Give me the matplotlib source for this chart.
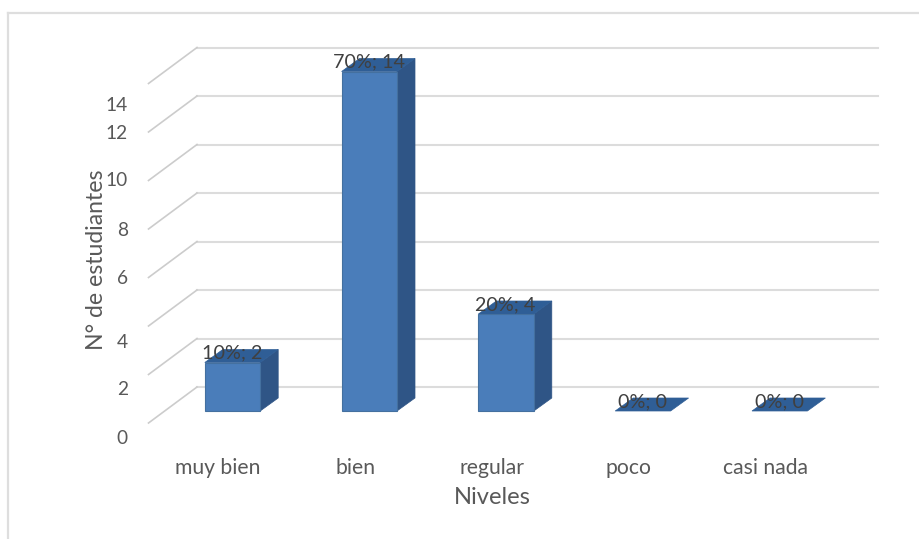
import matplotlib
matplotlib.use("Agg")
import matplotlib.pyplot as plt
from matplotlib.lines import Line2D
from matplotlib.patches import Polygon

categories = ["muy bien", "bien", "regular", "poco", "casi nada"]
values = [2, 14, 4, 0, 0]
percents = [10, 70, 20, 0, 0]
y_ticks = [0, 2, 4, 6, 8, 10, 12, 14]

# layout (pixels of the 920x539 picture)
W, H = 920, 539
tick_label_y = [438.5, 389.5, 342.5, 278.5, 230.5, 180.5, 133.5, 105.5]
cat_label_x = [218, 356, 492, 629, 766]
PX_X0, PX_PER_CAT = 232.5, 136.8
PX_Y0, PX_PER_UNIT = 411.0, 24.25
BAR_W = 0.405
DEPTH_X, DEPTH_Y = 18 / PX_PER_CAT, 13 / PX_PER_UNIT
WALL_DY = 24 / PX_PER_UNIT
FLOOR_DY = -12 / PX_PER_UNIT
WALL_X0, WALL_X1 = (197 - PX_X0) / PX_PER_CAT, (878 - PX_X0) / PX_PER_CAT
FRONT_X0 = (148.5 - PX_X0) / PX_PER_CAT

TEXT = "#595959"
DARK = "#404040"
GRID = "#dcdcdc"
FRONT, SIDE, TOP = "#4a7dba", "#2f5586", "#2f5e96"

plt.rcParams["font.family"] = ["Lato", "DejaVu Sans"]
fig = plt.figure(figsize=(W / 100, H / 100), dpi=100, facecolor="white")
ax = fig.add_axes([0, 0, 1, 1])
ax.set_xlim(-PX_X0 / PX_PER_CAT, (W - PX_X0) / PX_PER_CAT)
ax.set_ylim((PX_Y0 - H) / PX_PER_UNIT, PX_Y0 / PX_PER_UNIT)
ax.axis("off")


def fx(x):
    return x / W


def fy(y):
    return 1 - y / H


# chart frame (open at right and bottom)
fig.add_artist(Line2D([fx(8), fx(8)], [0, fy(13)], color="#dedede", lw=1.6))
fig.add_artist(Line2D([fx(8), 1], [fy(13), fy(13)], color="#dedede", lw=1.6))

# back wall and side wall gridlines
for v in y_ticks:
    ax.plot([WALL_X0, WALL_X1], [v + WALL_DY] * 2, color=GRID, lw=1.5, zorder=1)
    ax.plot([FRONT_X0, WALL_X0], [v + FLOOR_DY, v + WALL_DY], color="#cccccc",
            lw=1.2, zorder=1)

# 3D bars
for i, (v, p) in enumerate(zip(values, percents)):
    l, r = i - BAR_W / 2, i + BAR_W / 2
    if v > 0:
        ax.bar(i, v, width=BAR_W, color=FRONT, edgecolor="#44709f", lw=0.8, zorder=3)
        ax.add_patch(Polygon([(r, 0), (r + DEPTH_X, DEPTH_Y), (r + DEPTH_X, v + DEPTH_Y), (r, v)],
                             closed=True, fc=SIDE, ec=SIDE, lw=0.5, zorder=2.5))
    ax.add_patch(Polygon([(l, v), (r, v), (r + DEPTH_X, v + DEPTH_Y), (l + DEPTH_X, v + DEPTH_Y)],
                         closed=True, fc=TOP, ec=TOP, lw=0.5, zorder=2.5))
    ax.annotate(f"{p}%; {v}", (i, v), xytext=(-0.5, 6.6), textcoords="offset points",
                ha="center", va="center", fontsize=14.2, color=DARK, zorder=5)

# value axis labels (as placed in the source chart)
for t, y in zip(y_ticks, tick_label_y):
    fig.text(fx(128), fy(y), str(t), ha="right", va="center", fontsize=13.8, color=TEXT)

# category labels
for c, x in zip(categories, cat_label_x):
    fig.text(fx(x), fy(468), c, ha="center", va="center", fontsize=15.2, color=TEXT)

fig.text(fx(492), fy(498), "Niveles", ha="center", va="center", fontsize=17, color=TEXT)
fig.text(fx(97), fy(260), "N° de estudiantes", rotation=90, ha="center", va="center",
         fontsize=16.6, color=TEXT)

fig.savefig("out.png", dpi=100)
